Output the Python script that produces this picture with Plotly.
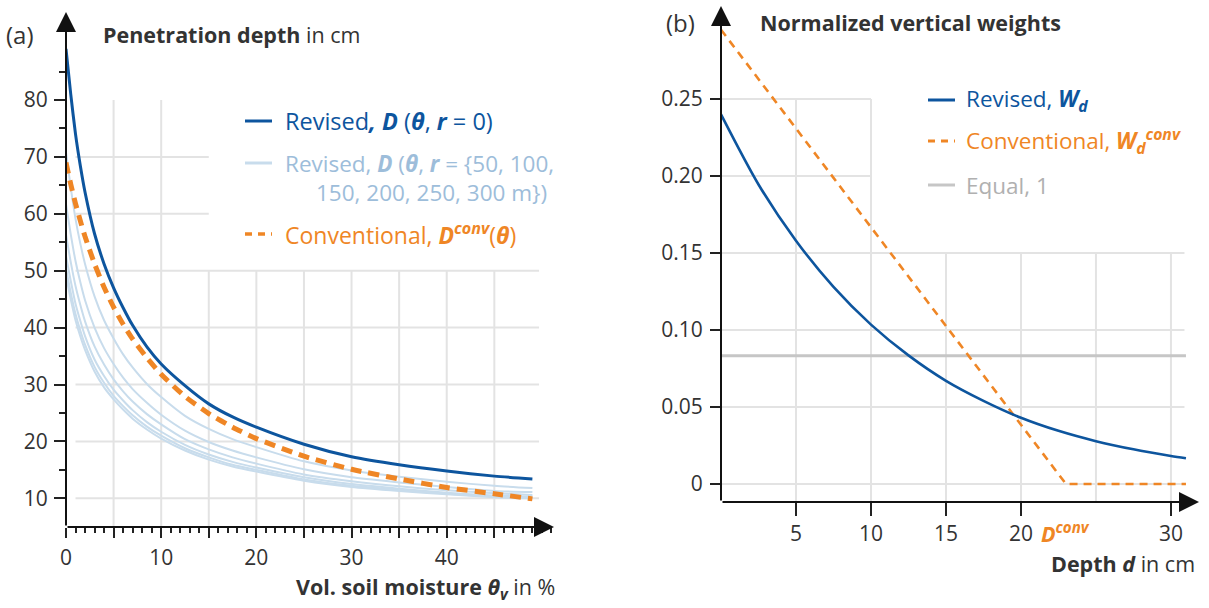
import plotly.graph_objects as go

# ---------------- data ----------------
theta = [0, 0.5, 1, 1.5, 2, 3, 4, 5, 6, 7, 8.5, 10, 12.5, 15, 17.5, 20, 25, 30, 35, 40, 45, 49]
D_r0 = [89, 81, 74, 68.5, 63.8, 56.5, 51.2, 47.0, 43.5, 40.4, 36.6, 33.6, 29.8, 26.6, 24.3, 22.5,
        19.5, 17.3, 15.9, 14.8, 13.9, 13.4]
D_conv = [69, 65.2, 61.8, 58.8, 56.0, 51.2, 47.1, 43.6, 40.6, 38.0, 34.7, 31.8, 27.9, 24.9, 22.5, 20.5,
          17.4, 15.1, 13.4, 11.9, 10.8, 9.9]
D_r50 = [70.8, 64.6, 59.1, 54.8, 51.2, 45.5, 41.3, 38.1, 35.3, 33.0, 30.1, 27.8, 24.5, 22.2, 20.4, 19.0,
         16.5, 14.9, 13.8, 12.9, 12.2, 11.8]
D_r100 = [61.7, 56.4, 51.7, 48.0, 44.8, 40.0, 36.4, 33.6, 31.2, 29.2, 26.8, 24.7, 21.9, 19.9, 18.4, 17.2,
          15.1, 13.7, 12.8, 12.0, 11.3, 11.1]
D_r150 = [56.4, 51.5, 47.3, 44.0, 41.1, 36.7, 33.5, 30.9, 28.8, 27.0, 24.8, 23.0, 20.4, 18.6, 17.2, 16.1,
          14.2, 13.0, 12.1, 11.4, 10.9, 10.6]
D_r200 = [52.6, 48.2, 44.2, 41.2, 38.5, 34.4, 31.5, 29.1, 27.2, 25.5, 23.4, 21.7, 19.4, 17.7, 16.4, 15.4,
          13.7, 12.5, 11.7, 11.0, 10.5, 10.3]
D_r250 = [50.4, 46.1, 42.4, 39.5, 37.0, 33.1, 30.3, 28.0, 26.2, 24.6, 22.6, 21.0, 18.8, 17.2, 15.9, 15.0,
          13.3, 12.2, 11.5, 10.8, 10.3, 10.1]
D_r300 = [49.1, 45.0, 41.3, 38.5, 36.1, 32.3, 29.5, 27.4, 25.6, 24.0, 22.1, 20.5, 18.4, 16.8, 15.6, 14.7,
          13.1, 12.0, 11.3, 10.7, 10.2, 10.0]
light_series = [D_r50, D_r100, D_r150, D_r200, D_r250, D_r300]

depth = [0, 2.5, 5, 7.5, 10, 12.5, 15, 17.5, 20, 22.5, 25, 27.5, 30, 31]
W_rev = [0.240, 0.1945, 0.158, 0.128, 0.1035, 0.0835, 0.067, 0.054, 0.043, 0.0345, 0.0278, 0.0225,
         0.0182, 0.0167]
depth_conv = [0, 23, 31]
W_conv = [0.295, 0, 0]
depth_eq = [0, 31]
W_eq = [0.0833, 0.0833]
D_conv_depth = 23

left_xticks = [0, 5, 10, 15, 20, 25, 30, 35, 40, 45]
left_xticktext = ["0", "", "10", "", "20", "", "30", "", "40", ""]
left_yticks = [10, 20, 30, 40, 50, 60, 70, 80]
left_yminor = [15, 25, 35, 45, 55, 65, 75, 85]
right_xticks = [5, 10, 15, 20, 30]
right_yticks = [0, 0.05, 0.10, 0.15, 0.20, 0.25]
right_yticktext = ["0", "0.05", "0.10", "0.15", "0.20", "0.25"]

# ---------------- styling ----------------
W, H = 1209, 608
FONT = "Open Sans"
TXT = "#333333"
DARK = "#0d559e"
LIGHT = "#c8dcec"
LIGHT_TXT = "#9dbdda"
ORANGE = "#ef8625"
GRAY = "#c6c6c6"
GRAY_TXT = "#b0b0b0"
GRID = "#e3e3e3"
LEG = 22.5


def px(x):
    return x / W


def py(y):
    return 1 - y / H


L_XR = [0, 51.27]
L_YR = [4.96, 95.47]
R_XR = [0, 31.87]
R_YR = [-0.0117, 0.3104]

fig = go.Figure()

for s in light_series:
    fig.add_trace(go.Scatter(x=theta, y=s, mode="lines", xaxis="x", yaxis="y",
                             line=dict(color=LIGHT, width=2, shape="spline", smoothing=0.6),
                             showlegend=False, hoverinfo="skip"))
fig.add_trace(go.Scatter(x=theta, y=D_conv, mode="lines", xaxis="x", yaxis="y",
                         line=dict(color=ORANGE, width=5, dash="11px,7px", shape="spline", smoothing=0.6),
                         showlegend=False))
fig.add_trace(go.Scatter(x=theta, y=D_r0, mode="lines", xaxis="x", yaxis="y",
                         line=dict(color=DARK, width=3, shape="spline", smoothing=0.6),
                         showlegend=False))

fig.add_trace(go.Scatter(x=depth_eq, y=W_eq, mode="lines", xaxis="x2", yaxis="y2",
                         line=dict(color=GRAY, width=3), showlegend=False))
fig.add_trace(go.Scatter(x=depth_conv, y=W_conv, mode="lines", xaxis="x2", yaxis="y2",
                         line=dict(color=ORANGE, width=2.6, dash="8px,6px"), showlegend=False))
fig.add_trace(go.Scatter(x=depth, y=W_rev, mode="lines", xaxis="x2", yaxis="y2",
                         line=dict(color=DARK, width=2.6, shape="spline", smoothing=0.8),
                         showlegend=False))

shapes = []
for v in [5, 10, 15, 20, 25, 30, 35, 40, 45]:
    top = 80 if v <= 10 else 50
    shapes.append(dict(type="line", xref="x", yref="y", x0=v, x1=v, y0=L_YR[0], y1=top,
                       line=dict(color=GRID, width=2), layer="below"))
for v in left_yticks[:-1]:
    right = 15 if v >= 60 else 49.7
    shapes.append(dict(type="line", xref="x", yref="y", x0=1, x1=right, y0=v, y1=v,
                       line=dict(color=GRID, width=2), layer="below"))
for v in [5, 10, 15, 20, 25, 30]:
    top = 0.25 if v <= 10 else 0.15
    shapes.append(dict(type="line", xref="x2", yref="y2", x0=v, x1=v, y0=R_YR[0], y1=top,
                       line=dict(color=GRID, width=2), layer="below"))
for v in right_yticks:
    right = 10 if v >= 0.2 else 30.9
    shapes.append(dict(type="line", xref="x2", yref="y2", x0=0, x1=right, y0=v, y1=v,
                       line=dict(color=GRID, width=2), layer="below"))
shapes.append(dict(type="line", xref="x2", yref="y2", ysizemode="pixel", yanchor=R_YR[0],
                   x0=D_conv_depth, x1=D_conv_depth, y0=0, y1=-13,
                   line=dict(color=ORANGE, width=1.5)))


def leg_line(x0, x1, y, color, width, dash="solid"):
    shapes.append(dict(type="line", xref="paper", yref="paper", x0=px(x0), x1=px(x1),
                       y0=py(y), y1=py(y), line=dict(color=color, width=width, dash=dash)))


leg_line(245, 272, 121, DARK, 3)
leg_line(245, 272, 163, LIGHT, 3)
leg_line(245, 272, 234, ORANGE, 3.5, "7px,6px")
leg_line(928, 955, 100, DARK, 3)
leg_line(928, 955, 141, ORANGE, 3, "7px,6px")
leg_line(928, 955, 185, GRAY, 3)

annotations = []


def text(x, y, s, size=22, color=TXT, xanchor="left"):
    annotations.append(dict(x=px(x), y=py(y), xref="paper", yref="paper", text=s, showarrow=False,
                            xanchor=xanchor, yanchor="middle",
                            font=dict(family=FONT, size=size, color=color)))


def arrow(xref, yref, x0, y0, x1, y1):
    annotations.append(dict(x=x1, y=y1, ax=x0, ay=y0, xref=xref, yref=yref, axref=xref, ayref=yref,
                            text="", showarrow=True, arrowhead=2, arrowsize=2, arrowwidth=2,
                            arrowcolor="#111111"))


arrow("x", "y", L_XR[0], L_YR[0], L_XR[1], L_YR[0])
arrow("x", "y", L_XR[0], L_YR[0], L_XR[0], L_YR[1])
arrow("x2", "y2", R_XR[0], R_YR[0], R_XR[1], R_YR[0])
arrow("x2", "y2", R_XR[0], R_YR[0], R_XR[0], R_YR[1])

text(4, 35, "(a)", size=24)
text(101, 35, "<b>Penetration depth</b> in cm", size=21.5)
text(664, 22, "(b)", size=24)
text(758, 22, "<b>Normalized vertical weights</b>", size=21.5)
text(557, 588, "<b>Vol. soil moisture <i>θ<sub>v</sub></i></b> in %", size=21.5, xanchor="right")
text(1197, 563, "<b>Depth <i>d</i></b> in cm", size=21.5, xanchor="right")

text(283, 121, "Revised<b><i>, D</i></b> (<b><i>θ</i></b>, <b><i>r</i></b> = 0)", size=23.5, color=DARK)
text(283, 163, "Revised, <b><i>D</i></b> (<b><i>θ</i></b>, <b><i>r</i></b> = {50, 100,", size=LEG,
     color=LIGHT_TXT)
text(314, 193, "150, 200, 250, 300 m})", size=LEG, color=LIGHT_TXT)
text(283, 234, "Conventional, <b><i>D</i></b><sup><b><i>conv</i></b></sup>(<b><i>θ</i></b>)", size=23,
     color=ORANGE)
text(964, 100, "Revised, <b><i>W<sub>d</sub></i></b>", size=LEG, color=DARK)
text(964, 141, "Conventional, <b><i>W<sub>d</sub></i></b><sup><b><i>conv</i></b></sup>", size=LEG,
     color=ORANGE)
text(964, 185, "Equal, 1", size=LEG, color=GRAY_TXT)

annotations.append(dict(x=D_conv_depth, y=R_YR[0], xref="x2", yref="y2", yshift=-30, showarrow=False,
                        text="<b><i>D</i></b><sup><b><i>conv</i></b></sup>", xanchor="center",
                        yanchor="middle", font=dict(family=FONT, size=21.5, color=ORANGE)))

tickfont = dict(family=FONT, size=21, color=TXT)
fig.update_layout(
    width=W, height=H, margin=dict(l=0, r=0, t=0, b=0, autoexpand=False),
    paper_bgcolor="white", plot_bgcolor="white",
    shapes=shapes, annotations=annotations, showlegend=False,
    xaxis=dict(domain=[px(66), px(554)], range=L_XR, anchor="y", showgrid=False, zeroline=False,
               showline=False, automargin=False, tickmode="array", tickvals=left_xticks,
               ticktext=left_xticktext,
               ticks="outside", ticklen=10, tickwidth=2, tickcolor="#222", tickfont=tickfont,
               ticklabelstandoff=2,
               minor=dict(tickmode="linear", tick0=0, dtick=1, ticks="outside", ticklen=5,
                          tickwidth=1.5, tickcolor="#222", showgrid=False)),
    yaxis=dict(domain=[py(527), py(12)], range=L_YR, anchor="x", showgrid=False, zeroline=False,
               showline=False, automargin=False, tickmode="array", tickvals=left_yticks,
               ticks="outside", ticklen=11, tickwidth=2, tickcolor="#222", tickfont=tickfont,
               ticklabelstandoff=2,
               minor=dict(tickmode="array", tickvals=left_yminor, ticks="outside", ticklen=6,
                          tickwidth=1.5, tickcolor="#222", showgrid=False)),
    xaxis2=dict(domain=[px(721), px(1199)], range=R_XR, anchor="y2", showgrid=False, zeroline=False,
                showline=False, automargin=False, tickmode="array", tickvals=right_xticks,
                ticks="outside", ticklen=13, tickwidth=2, tickcolor="#222", tickfont=tickfont,
                ticklabelstandoff=0),
    yaxis2=dict(domain=[py(502), py(6)], range=R_YR, anchor="x2", showgrid=False, zeroline=False,
                showline=False, automargin=False, tickmode="array", tickvals=right_yticks,
                ticktext=right_yticktext,
                ticks="outside", ticklen=10, tickwidth=2, tickcolor="#222", tickfont=tickfont,
                ticklabelstandoff=3),
)

fig.write_html("out.html", config={"displayModeBar": False},
               post_script="document.body.style.margin='0';")
